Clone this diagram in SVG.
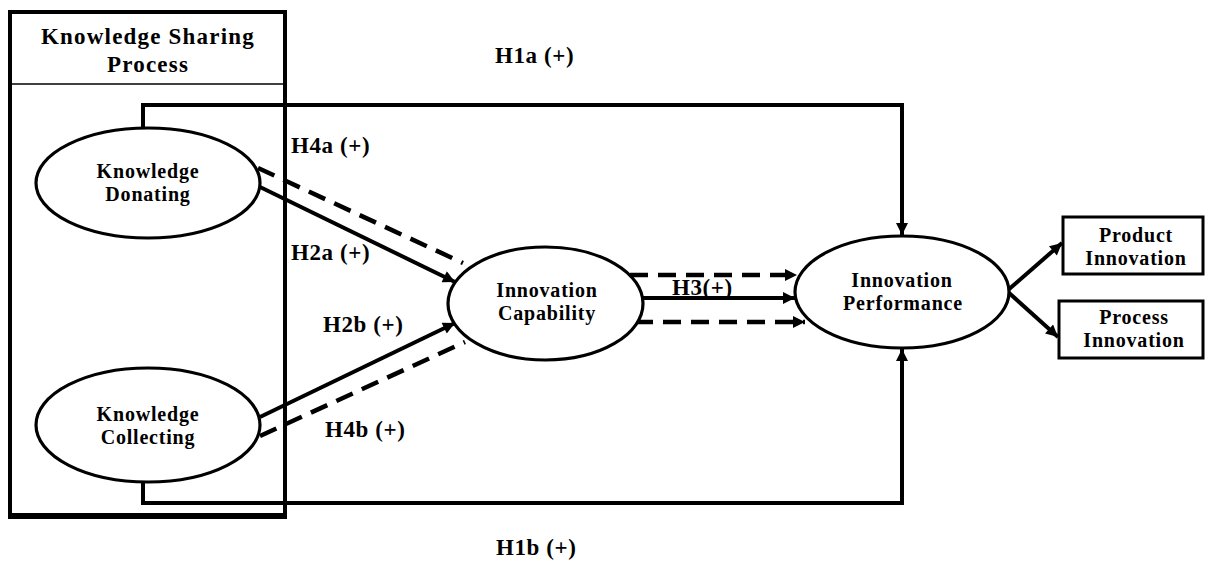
<svg xmlns="http://www.w3.org/2000/svg" width="1205" height="567" viewBox="0 0 1205 567">
<style>
  .node { fill: #fff; stroke: #000; stroke-width: 3.2; }
  .box { fill: #fff; stroke: #000; stroke-width: 3; }
  .t { font-family: "Liberation Serif", "Times New Roman", serif; font-weight: bold; fill: #000; text-anchor: middle; }
  .nt { font-size: 20px; letter-spacing: 0.8px; }
  .lbl { font-family: "Liberation Serif", "Times New Roman", serif; font-weight: bold; font-size: 23px; letter-spacing: 0.6px; fill: #000; }
  .solid { fill: none; stroke: #000; stroke-width: 4; }
  .dash { fill: none; stroke: #000; stroke-width: 4.5; stroke-dasharray: 18 10; }
</style>
<defs>
  <marker id="ah" viewBox="0 0 10 10" refX="10" refY="5" markerWidth="13" markerHeight="12" markerUnits="userSpaceOnUse" orient="auto">
    <path d="M0,0 L10,5 L0,10 z" fill="#000"/>
  </marker>
</defs>
<rect width="1205" height="567" fill="#fff"/>

<g id="knowledge-sharing-process">
  <rect x="10" y="12" width="275" height="505" fill="none" stroke="#000" stroke-width="4"/>
  <line x1="8" y1="516" x2="287" y2="516" stroke="#000" stroke-width="6"/>
  <line x1="10" y1="84" x2="285" y2="84" stroke="#000" stroke-width="1.5"/>
  <text class="t" x="148" y="44" font-size="23" letter-spacing="1.2">Knowledge Sharing</text>
  <text class="t" x="148" y="72" font-size="23" letter-spacing="1.2">Process</text>
</g>

<g id="connectors">
  <!-- H1a -->
  <path class="solid" d="M143,127 L143,105 L902,105 L902,235" marker-end="url(#ah)"/>
  <!-- H1b -->
  <path class="solid" d="M143,482 L143,503 L902,503 L902,349" marker-end="url(#ah)"/>
  <!-- H2a / H4a -->
  <line class="solid" x1="260" y1="187" x2="455" y2="282" marker-end="url(#ah)"/>
  <line class="dash" x1="258" y1="168" x2="463" y2="263"/>
  <!-- H2b / H4b -->
  <line class="solid" x1="260" y1="417" x2="455" y2="323" marker-end="url(#ah)"/>
  <line class="dash" x1="260" y1="436" x2="465" y2="342"/>
  <!-- H3 -->
  <line class="dash" x1="630" y1="275" x2="797" y2="275" marker-end="url(#ah)"/>
  <line class="solid" x1="643" y1="298" x2="795" y2="298" marker-end="url(#ah)"/>
  <line class="dash" x1="635" y1="322" x2="805" y2="322" marker-end="url(#ah)"/>
  <!-- outcomes -->
  <line class="solid" x1="1008" y1="290" x2="1062" y2="243" marker-end="url(#ah)"/>
  <line class="solid" x1="1008" y1="292" x2="1058" y2="337" marker-end="url(#ah)"/>
</g>

<g id="knowledge-donating">
  <ellipse class="node" cx="148" cy="183" rx="112" ry="55"/>
  <text class="t nt" x="148" y="178">Knowledge</text>
  <text class="t nt" x="148" y="201">Donating</text>
</g>

<g id="knowledge-collecting">
  <ellipse class="node" cx="148" cy="425" rx="112" ry="57"/>
  <text class="t nt" x="148" y="421">Knowledge</text>
  <text class="t nt" x="148" y="444">Collecting</text>
</g>

<g id="innovation-capability">
  <ellipse class="node" cx="545.5" cy="303.5" rx="97.5" ry="56.5"/>
  <text class="t nt" x="547" y="297">Innovation</text>
  <text class="t nt" x="547" y="320">Capability</text>
</g>

<g id="innovation-performance">
  <ellipse class="node" cx="902" cy="292" rx="107" ry="56"/>
  <text class="t nt" x="902" y="287">Innovation</text>
  <text class="t nt" x="903" y="310">Performance</text>
</g>

<g id="product-innovation">
  <rect class="box" x="1063" y="217" width="140" height="57"/>
  <text class="t nt" x="1136" y="242">Product</text>
  <text class="t nt" x="1136" y="265">Innovation</text>
</g>

<g id="process-innovation">
  <rect class="box" x="1059" y="301" width="144" height="57"/>
  <text class="t nt" x="1134" y="324">Process</text>
  <text class="t nt" x="1134" y="347">Innovation</text>
</g>

<g id="labels">
  <text class="lbl" x="495" y="63">H1a (+)</text>
  <text class="lbl" x="291" y="153">H4a (+)</text>
  <text class="lbl" x="291" y="260">H2a (+)</text>
  <text class="lbl" x="323" y="332">H2b (+)</text>
  <text class="lbl" x="325" y="437">H4b (+)</text>
  <text class="lbl" x="672" y="295">H3(+)</text>
  <text class="lbl" x="496" y="555">H1b (+)</text>
</g>
</svg>
